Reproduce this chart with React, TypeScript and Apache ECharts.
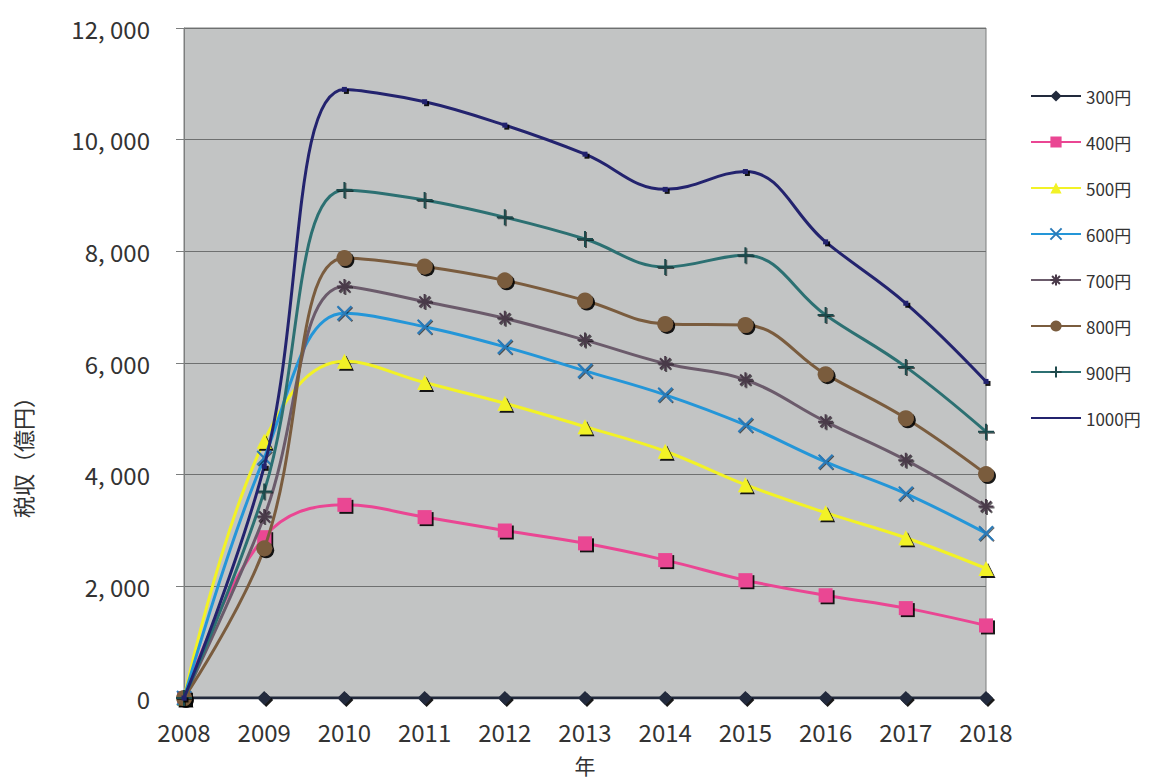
import React, { useEffect, useRef } from "react";
import * as echarts from "echarts";

const years = ["2008", "2009", "2010", "2011", "2012", "2013", "2014", "2015", "2016", "2017", "2018"];
const seriesNames = ["300円", "400円", "500円", "600円", "700円", "800円", "900円", "1000円"];
const s300 = [0, 0, 0, 0, 0, 0, 0, 0, 0, 0, 0];
const s400 = [0, 2880, 3460, 3240, 3000, 2770, 2470, 2110, 1840, 1610, 1300];
const s500 = [0, 4600, 6030, 5650, 5280, 4860, 4420, 3820, 3320, 2870, 2320];
const s600 = [0, 4300, 6890, 6650, 6290, 5860, 5430, 4890, 4230, 3660, 2950];
const s700 = [0, 3250, 7370, 7100, 6800, 6410, 5990, 5700, 4950, 4260, 3430];
const s800 = [0, 2680, 7880, 7730, 7480, 7120, 6700, 6680, 5800, 5010, 4010];
const s900 = [0, 3700, 9100, 8920, 8610, 8220, 7720, 7930, 6860, 5930, 4770];
const s1000 = [0, 4150, 10900, 10680, 10260, 9740, 9110, 9430, 8170, 7070, 5670];
const yTicks = [0, 2000, 4000, 6000, 8000, 10000, 12000];
const yAxisTitle = "税収（億円）";
const xAxisTitle = "年";

const FONT = "'Noto Sans CJK JP', 'Noto Sans', sans-serif";

const styles = [
  { color: "#222a3c", symbol: "diamond", size: 14, stroke: false },
  { color: "#ea4693", symbol: "rect", size: 14, stroke: false },
  { color: "#f2f226", symbol: "triangle", size: 15, stroke: false },
  { color: "#2496d8", symbol: "path://M0,0L10,10M10,0L0,10", size: 14, stroke: true, markerColor: "#2a7ab8" },
  { color: "#6b5b6b", symbol: "path://M0,5L10,5M5,0L5,10M1.5,1.5L8.5,8.5M8.5,1.5L1.5,8.5", size: 15, stroke: true, markerColor: "#4a3a4a" },
  { color: "#7a5c3e", symbol: "circle", size: 16, stroke: false },
  { color: "#2c7072", symbol: "path://M5,0L5,10M0,5L10,5", size: 16, stroke: true, markerColor: "#1f4a4c" },
  { color: "#23236e", symbol: "rect", size: 5, stroke: false },
];

const fmt = (v: number) => {
  if (v === 0) return "0";
  const s = String(v);
  return s.slice(0, s.length - 3) + ", " + s.slice(s.length - 3);
};

export default function App() {
  const ref = useRef<HTMLDivElement>(null);
  useEffect(() => {
    document.body.style.margin = "0";
    const chart = echarts.init(ref.current!, null, { renderer: "svg" });
    const dataSets = [s300, s400, s500, s600, s700, s800, s900, s1000];
    const series = dataSets.map((d, i) => {
      const st: any = styles[i];
      return {
        name: seriesNames[i],
        type: "line",
        data: d,
        smooth: 0.4,
        symbol: st.symbol,
        symbolSize: st.size,
        showAllSymbol: true,
        lineStyle: { color: st.color, width: 3 },
        itemStyle: st.stroke
          ? {
              color: st.markerColor,
              borderColor: st.markerColor,
              borderWidth: 2,
              shadowColor: "rgba(0,0,0,0.6)",
              shadowOffsetX: 1,
              shadowOffsetY: 1,
              shadowBlur: 1,
            }
          : {
              color: st.color,
              borderWidth: 0,
              shadowColor: "rgba(0,0,0,0.9)",
              shadowOffsetX: 2,
              shadowOffsetY: 2,
              shadowBlur: 1,
            },
        z: 2 + i,
      };
    });
    const option: any = {
      animation: false,
      textStyle: { fontFamily: FONT },
      grid: {
        left: 184,
        right: 165,
        top: 28,
        bottom: 82,
        outerBoundsMode: "none",
        containLabel: false,
        show: true,
        backgroundColor: "#c2c4c4",
        borderColor: "#7c7e7e",
        borderWidth: 1,
      },
      legend: {
        orient: "vertical",
        left: 1025,
        top: 81,
        itemWidth: 50,
        itemHeight: 14,
        itemGap: 26,
        textStyle: { fontSize: 17, color: "#333", fontFamily: FONT, lineHeight: 20 },
        data: seriesNames.map((n, i) =>
          i === 7 ? { name: n, itemStyle: { opacity: 0 } } : { name: n }
        ),
      },
      xAxis: {
        type: "category",
        data: years,
        boundaryGap: false,
        name: xAxisTitle,
        nameLocation: "middle",
        nameGap: 56,
        nameTextStyle: { fontSize: 21, color: "#333", fontFamily: FONT },
        axisLine: { lineStyle: { color: "#3a4450", width: 2 } },
        axisTick: { show: false },
        axisLabel: { fontSize: 24, color: "#333", margin: 21, fontFamily: FONT },
        splitLine: { show: false },
      },
      yAxis: {
        type: "value",
        min: yTicks[0],
        max: yTicks[yTicks.length - 1],
        interval: yTicks[1] - yTicks[0],
        axisLine: { show: true, lineStyle: { color: "#7c7e7e", width: 1 } },
        axisTick: { show: true, inside: false, length: 8, lineStyle: { color: "#7c7e7e" } },
        axisLabel: { fontSize: 24, color: "#333", margin: 34, fontFamily: FONT, formatter: fmt },
        splitLine: { show: true, lineStyle: { color: "#6e7070", width: 1 } },
      },
      graphic: [
        {
          type: "text",
          x: 22,
          y: 452,
          rotation: Math.PI / 2,
          style: {
            text: yAxisTitle,
            fill: "#333",
            font: "22px " + FONT,
            textAlign: "center",
            textVerticalAlign: "middle",
          },
        },
      ],
      series,
    };
    chart.setOption(option);
    return () => chart.dispose();
  }, []);
  return <div ref={ref} style={{ width: 1151, height: 780 }} />;
}
